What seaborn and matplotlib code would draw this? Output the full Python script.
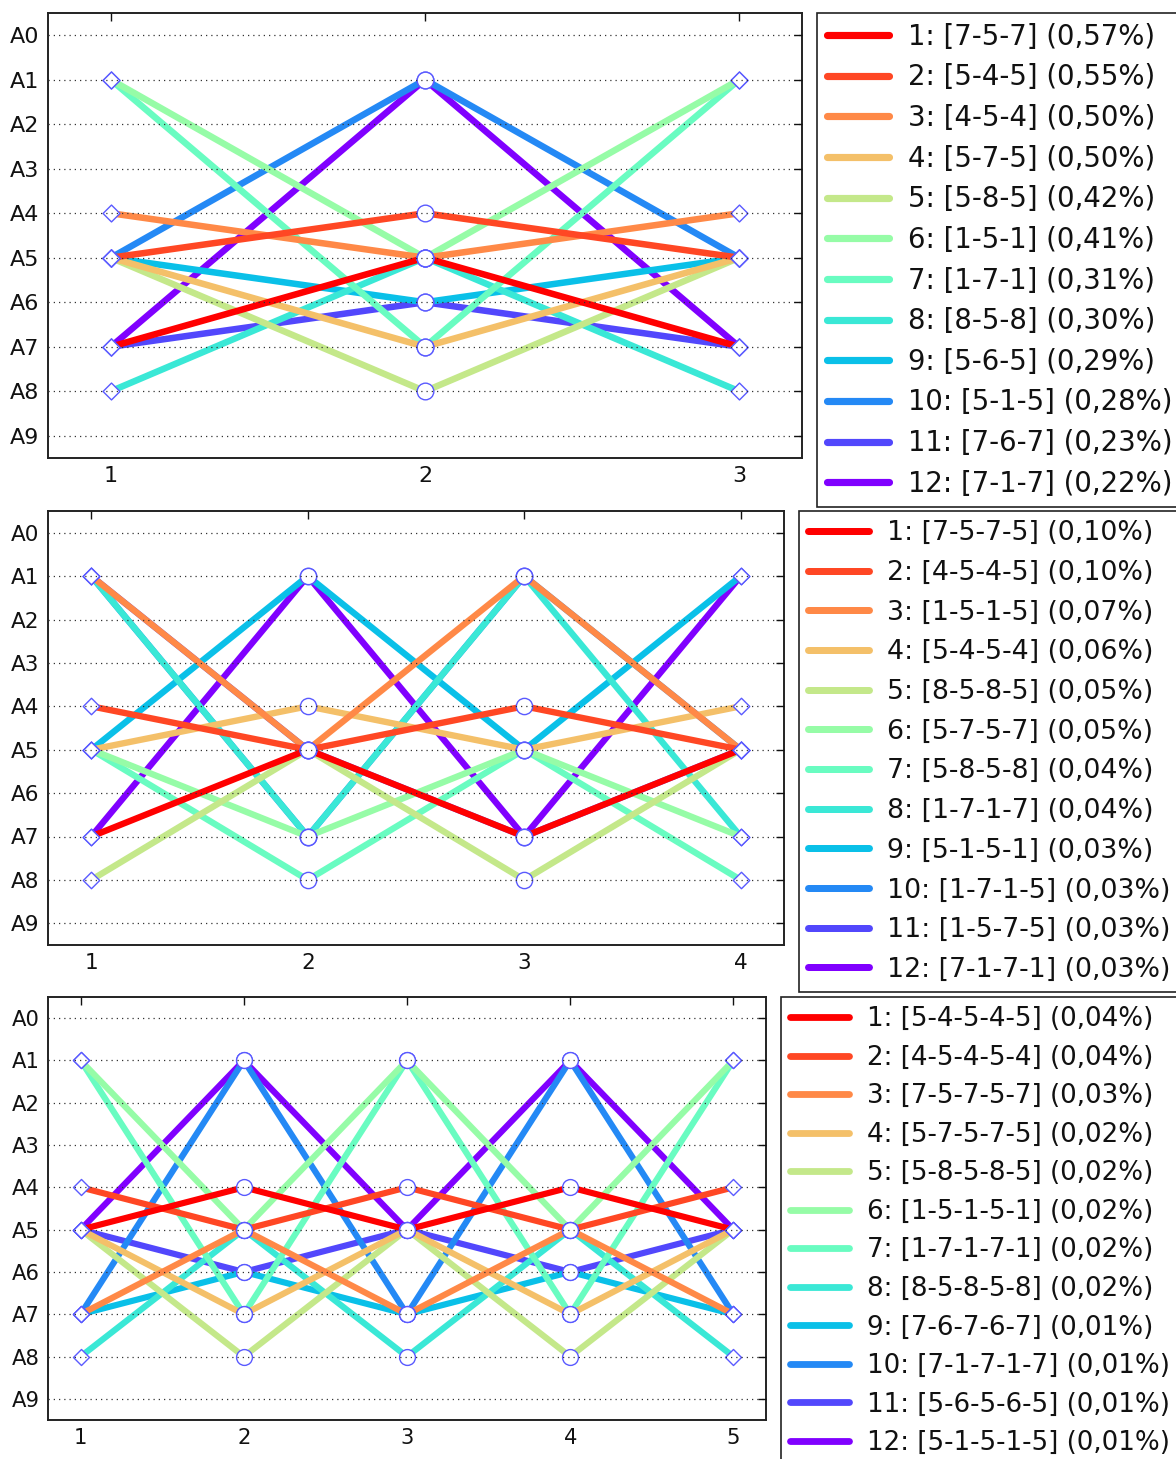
import numpy as np
import pandas as pd
import matplotlib
matplotlib.use("Agg")
import matplotlib.pyplot as plt
from matplotlib.lines import Line2D
import seaborn as sns

# level patterns (index into A0..A9) and their share in percent
paths_3 = [[7, 5, 7], [5, 4, 5], [4, 5, 4], [5, 7, 5], [5, 8, 5], [1, 5, 1],
           [1, 7, 1], [8, 5, 8], [5, 6, 5], [5, 1, 5], [7, 6, 7], [7, 1, 7]]
share_3 = [0.57, 0.55, 0.50, 0.50, 0.42, 0.41, 0.31, 0.30, 0.29, 0.28, 0.23, 0.22]

paths_4 = [[7, 5, 7, 5], [4, 5, 4, 5], [1, 5, 1, 5], [5, 4, 5, 4], [8, 5, 8, 5], [5, 7, 5, 7],
           [5, 8, 5, 8], [1, 7, 1, 7], [5, 1, 5, 1], [1, 7, 1, 5], [1, 5, 7, 5], [7, 1, 7, 1]]
share_4 = [0.10, 0.10, 0.07, 0.06, 0.05, 0.05, 0.04, 0.04, 0.03, 0.03, 0.03, 0.03]

paths_5 = [[5, 4, 5, 4, 5], [4, 5, 4, 5, 4], [7, 5, 7, 5, 7], [5, 7, 5, 7, 5],
           [5, 8, 5, 8, 5], [1, 5, 1, 5, 1], [1, 7, 1, 7, 1], [8, 5, 8, 5, 8],
           [7, 6, 7, 6, 7], [7, 1, 7, 1, 7], [5, 6, 5, 6, 5], [5, 1, 5, 1, 5]]
share_5 = [0.04, 0.04, 0.03, 0.02, 0.02, 0.02, 0.02, 0.02, 0.01, 0.01, 0.01, 0.01]

level_labels = [f"A{i}" for i in range(10)]

W, H = 1176, 1459
# pixel boxes of each panel (left, right, top, bottom), size scale, legend spacing
panels = [
    (paths_3, share_3, (48, 802, 13, 458), 1.0, 0.46),
    (paths_4, share_4, (48, 784, 511, 945), 0.975, 0.51),
    (paths_5, share_5, (48, 766, 997, 1420), 0.95, 0.48),
]

sns.set_theme(style="white")
plt.rcParams["font.family"] = ["DejaVu Sans"]
plt.rcParams["text.color"] = "#111111"

colors = [plt.cm.rainbow(v) for v in np.linspace(1, 0, 12)]
edge_blue = "#5a5aff"

fig = plt.figure(figsize=(W / 100, H / 100), dpi=100)

for paths, share, (l, r, t, b), s, spacing in panels:
    ax = fig.add_axes([l / W, 1 - b / H, (r - l) / W, (b - t) / H])
    n = len(paths[0])
    names = [f"{i + 1}: [{'-'.join(str(v) for v in p)}] ({share[i]:.2f}".replace(".", ",") + "%)"
             for i, p in enumerate(paths)]

    rows = []
    for name, p in zip(names, paths):
        for step, lev in enumerate(p, start=1):
            rows.append({"pattern": name, "step": step, "level": lev})
    df = pd.DataFrame(rows)
    pal = dict(zip(names, colors))

    lw = 4.7 * s
    # last pattern drawn first so that pattern 1 ends on top
    sns.lineplot(data=df, x="step", y="level", hue="pattern", hue_order=names[::-1],
                 palette=pal, estimator=None, linewidth=lw, legend=False, ax=ax, zorder=2)

    ends = df[df["step"].isin([1, n])]
    mids = df[~df["step"].isin([1, n])]
    sns.scatterplot(data=ends, x="step", y="level", marker="D", s=(8.6 * s) ** 2,
                    color="white", edgecolor=edge_blue, linewidth=1.0, ax=ax, zorder=2.2)
    sns.scatterplot(data=mids, x="step", y="level", marker="o", s=(12 * s) ** 2,
                    color="white", edgecolor=edge_blue, linewidth=1.0, ax=ax, zorder=2.2)

    ax.set_xlim(0.8, n + 0.2)
    ax.set_ylim(9.5, -0.5)
    ax.set_xticks(range(1, n + 1))
    ax.set_yticks(range(10))
    ax.set_yticklabels(level_labels)
    ax.set_xlabel("")
    ax.set_ylabel("")
    ax.set_axisbelow(False)
    ax.yaxis.grid(True, color="#333333", linestyle=(0, (1, 3.2)), linewidth=0.9)
    ax.xaxis.grid(False)
    ax.tick_params(direction="in", top=True, right=True, length=6, width=1,
                   labelsize=16 * s, pad=6, colors="#111111")
    for sp in ax.spines.values():
        sp.set_color("#222222")
        sp.set_linewidth(1.4)

    handles = [Line2D([], [], color=c, linewidth=lw * 1.1) for c in colors]
    leg = ax.legend(handles, names, loc="upper left", bbox_to_anchor=(1 + 15 / (r - l), 1),
                    borderaxespad=0, fontsize=19.8 * s, handlelength=2.25, handletextpad=0.7,
                    borderpad=0.35, labelspacing=spacing, frameon=True, fancybox=False,
                    framealpha=1, edgecolor="#222222")
    leg.get_frame().set_linewidth(1.2)

fig.savefig("out.png", dpi=100)
